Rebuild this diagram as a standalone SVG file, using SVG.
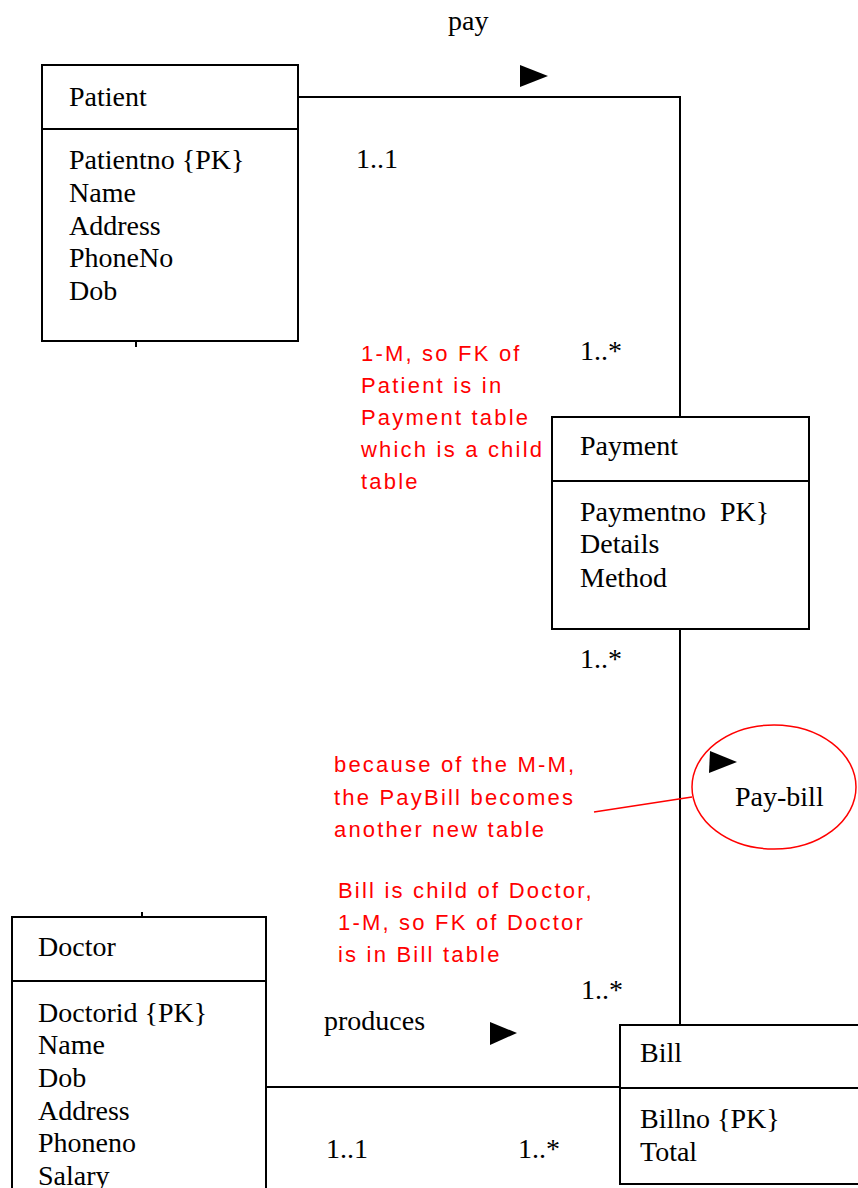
<svg xmlns="http://www.w3.org/2000/svg" width="858" height="1188" viewBox="0 0 858 1188">
  <style>
    .box { fill: #ffffff; stroke: #000000; stroke-width: 2; }
    .div { stroke: #000000; stroke-width: 2; }
    .conn { fill: none; stroke: #000000; stroke-width: 2; }
    .t { font-family: "Liberation Serif", "Times New Roman", serif; font-size: 28px; fill: #000000; }
    .note { font-family: "Liberation Sans", Arial, sans-serif; font-size: 22px; fill: #ff0000; letter-spacing: 2.2px; }
    .head { fill: #000000; }
  </style>
  <rect width="858" height="1188" fill="#ffffff"/>

  <!-- connectors -->
  <g id="connectors">
    <polyline class="conn" points="298,97 680,97 680,417"/>
    <line class="conn" x1="680" y1="629" x2="680" y2="1025"/>
    <line class="conn" x1="266" y1="1087" x2="620" y2="1087"/>
    <line class="conn" x1="136" y1="341" x2="136" y2="347"/>
    <line class="conn" x1="142" y1="912" x2="142" y2="917"/>
    <polygon class="head" points="520,65 520,87 548,76"/>
    <polygon class="head" points="490,1022 490,1045 517,1033"/>
    <text class="t" x="448" y="30">pay</text>
    <text class="t" x="356" y="168">1..1</text>
    <text class="t" x="580" y="360">1..*</text>
    <text class="t" x="580" y="668">1..*</text>
    <text class="t" x="581" y="999">1..*</text>
    <text class="t" x="324" y="1030">produces</text>
    <text class="t" x="326" y="1158">1..1</text>
    <text class="t" x="518" y="1158">1..*</text>
  </g>

  <!-- Patient -->
  <g id="patient">
    <rect class="box" x="42" y="65" width="256" height="276"/>
    <line class="div" x1="42" y1="129" x2="298" y2="129"/>
    <text class="t" x="69" y="106">Patient</text>
    <text class="t" x="69" y="169">Patientno {PK}</text>
    <text class="t" x="69" y="202">Name</text>
    <text class="t" x="69" y="235">Address</text>
    <text class="t" x="69" y="267">PhoneNo</text>
    <text class="t" x="69" y="300">Dob</text>
  </g>

  <!-- Payment -->
  <g id="payment">
    <rect class="box" x="552" y="417" width="257" height="212"/>
    <line class="div" x1="552" y1="481" x2="809" y2="481"/>
    <text class="t" x="580" y="455">Payment</text>
    <text class="t" x="580" y="521" xml:space="preserve">Paymentno  PK}</text>
    <text class="t" x="580" y="553">Details</text>
    <text class="t" x="580" y="587">Method</text>
  </g>

  <!-- Pay-bill association -->
  <g id="pay-bill">
    <ellipse cx="774" cy="787" rx="82" ry="62" fill="none" stroke="#ff0000" stroke-width="1.5"/>
    <polygon class="head" points="710,751 709,773 737,762"/>
    <text class="t" x="735" y="806">Pay-bill</text>
  </g>

  <!-- Doctor -->
  <g id="doctor">
    <rect class="box" x="12" y="917" width="254" height="280"/>
    <line class="div" x1="12" y1="981" x2="266" y2="981"/>
    <text class="t" x="38" y="956">Doctor</text>
    <text class="t" x="38" y="1022">Doctorid {PK}</text>
    <text class="t" x="38" y="1054">Name</text>
    <text class="t" x="38" y="1087">Dob</text>
    <text class="t" x="38" y="1120">Address</text>
    <text class="t" x="38" y="1152">Phoneno</text>
    <text class="t" x="38" y="1185">Salary</text>
  </g>

  <!-- Bill -->
  <g id="bill">
    <rect class="box" x="620" y="1025" width="250" height="159"/>
    <line class="div" x1="620" y1="1088" x2="858" y2="1088"/>
    <text class="t" x="640" y="1062">Bill</text>
    <text class="t" x="640" y="1128">Billno {PK}</text>
    <text class="t" x="640" y="1161">Total</text>
  </g>

  <!-- annotations -->
  <g id="notes">
    <text class="note" x="361" y="361">1-M, so FK of</text>
    <text class="note" x="361" y="393">Patient is in</text>
    <text class="note" x="361" y="425">Payment table</text>
    <text class="note" x="361" y="457">which is a child</text>
    <text class="note" x="361" y="489">table</text>
    <text class="note" x="334" y="772">because of the M-M,</text>
    <text class="note" x="334" y="805">the PayBill becomes</text>
    <text class="note" x="334" y="837">another new table</text>
    <line x1="594" y1="812" x2="692" y2="797" stroke="#ff0000" stroke-width="1.5"/>
    <text class="note" x="338" y="898">Bill is child of Doctor,</text>
    <text class="note" x="338" y="930">1-M, so FK of Doctor</text>
    <text class="note" x="338" y="962">is in Bill table</text>
  </g>
</svg>
